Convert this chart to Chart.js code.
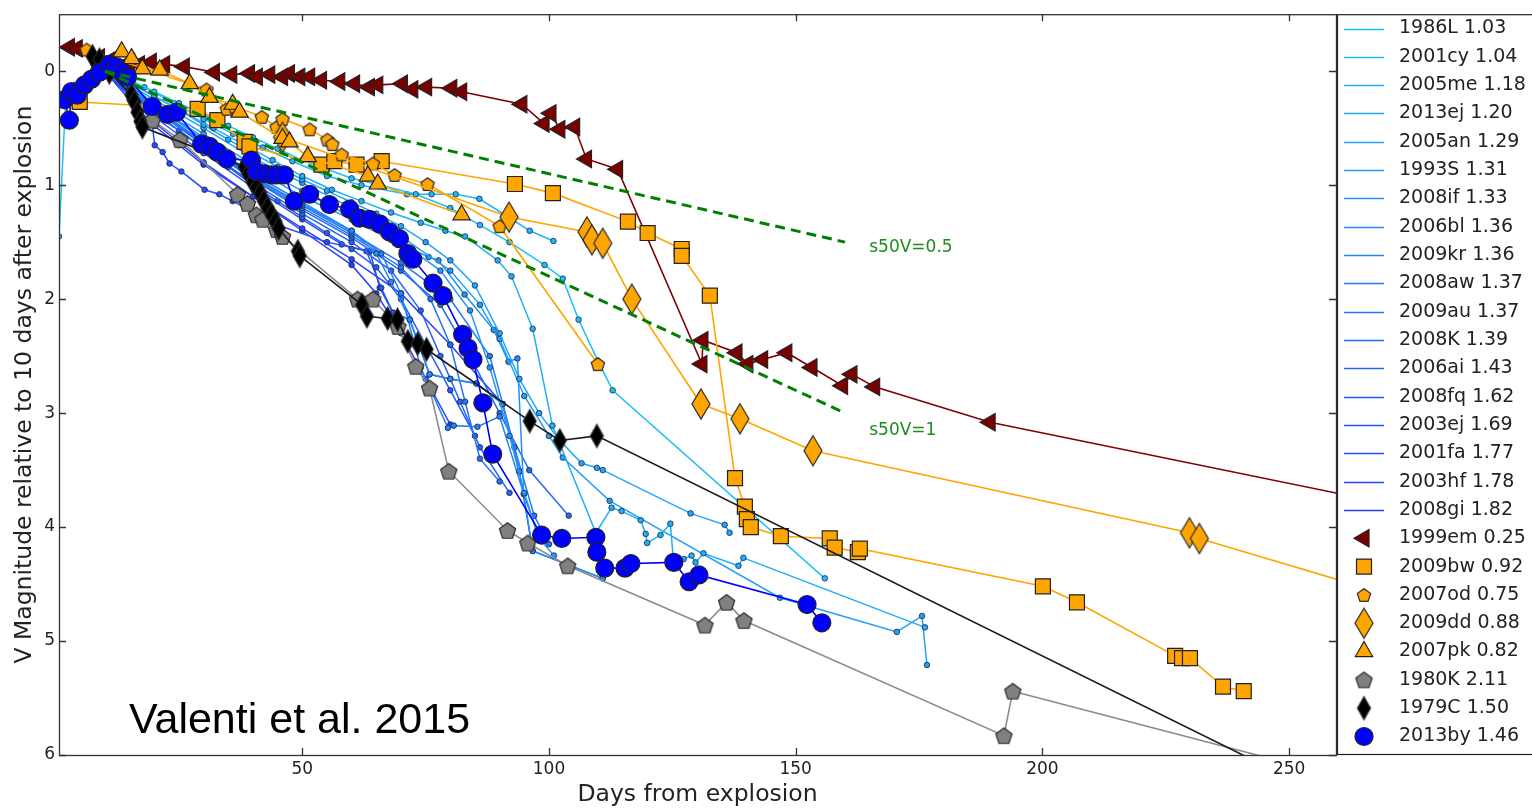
<!DOCTYPE html>
<html><head><meta charset="utf-8">
<script src="https://cdn.jsdelivr.net/npm/chart.js@4.4.0/dist/chart.umd.min.js"></script>
<style>html,body{margin:0;padding:0;background:#fff;overflow:hidden}#wrap{width:1532px;height:809px}</style>
</head><body><div id="wrap"><canvas id="c" width="1532" height="809"></canvas></div>
<script>
// ---------- axis ticks ----------
const xTicks = [50, 100, 150, 200, 250];
const yTicks = [0, 1, 2, 3, 4, 5, 6];

// ---------- line-only supernovae (name, s50V) ----------
const lineNames = ['1986L','2001cy','2005me','2013ej','2005an','1993S','2008if','2006bl','2009kr','2008aw','2009au','2008K','2006ai','2008fq','2003ej','2001fa','2003hf','2008gi'];
const lineS50 = ['1.03','1.04','1.18','1.20','1.29','1.31','1.33','1.36','1.36','1.37','1.37','1.39','1.43','1.62','1.69','1.77','1.78','1.82'];

const d1986L = [0.7,2,4,7,10,15,20,25,30,35,40,45,50,55,60,66,73,80,86,92,99.1,102.8,106,109.9,112.9,155.9];
const m1986L = [1.45,0.3,0.12,0.03,0,0.08,0.18,0.28,0.38,0.48,0.58,0.68,0.78,0.86,0.94,1.0,1.08,1.2,1.35,1.5,1.7,1.82,2.18,2.54,2.8,4.45];
const d2001cy = [3,6,10,14,18,24,30,36,42,48,55,62,71.2,76.2,81.1,85.9,96.1,100.9];
const m2001cy = [0.22,0.08,0,0.06,0.14,0.28,0.42,0.55,0.67,0.79,0.92,1.0,1.08,1.08,1.08,1.12,1.4,1.49];
const d2005me = [3,6,10,15,20,26,32,38,44,50,56,62,68,74,79,83,89.6,92.4,96.7,100.7,109.5,112.7,114.7,118.6,119.6,119.9,122.6,124.6,125.2,127.3,128.9,129.7,131.3,138.4,139.4,176.2];
const m2005me = [0.25,0.1,0,0.1,0.22,0.36,0.5,0.64,0.78,0.92,1.04,1.14,1.24,1.33,1.4,1.45,1.66,1.8,2.26,3.11,4.05,3.83,3.86,3.94,4.06,4.14,4.07,3.97,4.28,4.28,4.25,4.31,4.23,4.34,4.27,4.88];
const d2013ej = [3,6,10,15,20,25,30,35,40,45,50,55,60,65,70,75,80,85,90,94,98,102.2,106.6,109.7,110.9,128.7,135.6,136.6];
const m2013ej = [0.2,0.08,0,0.1,0.22,0.34,0.47,0.6,0.72,0.84,0.95,1.05,1.15,1.25,1.36,1.5,1.66,1.88,2.3,2.7,3.0,3.24,3.44,3.48,3.5,3.88,3.98,4.05];
const d2005an = [3,6,10,15,20,30,40,50,60,70,80,86,90,95,100,102.8,112.3,146.8,170.5,175.6,176.6];
const m2005an = [0.25,0.1,0,0.12,0.25,0.5,0.76,0.98,1.2,1.45,1.75,2.05,2.35,2.85,3.2,3.39,3.77,4.62,4.92,4.78,5.21];
const d1993S = [4,10,15,20,30,40,50,60,70,78,84,88,92,95,98,101];
const m1993S = [0.15,0,0.13,0.28,0.55,0.82,1.05,1.28,1.5,1.75,2.1,2.6,3.2,3.7,4.1,4.25];
const d2008if = [4,10,15,20,30,40,50,60,68,75.6,77.6,82.9,88.8,91.8,93.6,94.9,96.7,110.9];
const m2008if = [0.15,0,0.14,0.3,0.58,0.85,1.1,1.3,1.48,1.63,1.66,1.96,2.27,2.55,2.52,3.71,4.21,4.45];
const d2006bl = [5,10,15,20,30,40,50,60,65,68,71.8,75.8,80,85.3,90.6,94];
const m2006bl = [0.12,0,0.15,0.3,0.6,0.9,1.15,1.4,1.6,1.85,2.18,2.66,2.7,2.74,2.92,3.51];
const d2009kr = [5,10,15,20,30,40,50,60,66,70,74,79.5,80.7,85.5,90,94.9,98];
const m2009kr = [0.12,0,0.15,0.32,0.62,0.92,1.17,1.4,1.6,1.95,2.6,3.13,3.11,3.12,3.03,3.71,4.1];
const d2008aw = [5,10,15,20,30,40,50,60,70,80,88,93,97,100];
const m2008aw = [0.12,0,0.16,0.33,0.63,0.93,1.18,1.42,1.68,2.0,2.5,3.3,3.9,4.15];
const d2009au = [5,10,15,20,30,40,50,60,70,76,80,83,86,90];
const m2009au = [0.12,0,0.16,0.33,0.64,0.94,1.2,1.44,1.72,2.0,2.4,2.9,3.4,3.6];
const d2008K = [5,10,15,20,30,40,50,60,70,78,84,90,96,104];
const m2008K = [0.12,0,0.17,0.34,0.65,0.95,1.22,1.46,1.75,2.05,2.5,3.0,3.5,3.9];
const d2006ai = [5,10,15,20,30,40,50,60,68,74,78,82,86,92];
const m2006ai = [0.12,0,0.18,0.36,0.68,0.98,1.25,1.5,1.75,2.1,2.5,2.9,3.3,3.7];
const d2008fq = [5,10,15,20,25,30,35,40,45,50,55,60,65,70,75,80,85];
const m2008fq = [0.15,0,0.18,0.38,0.52,0.68,0.84,1.0,1.14,1.28,1.42,1.56,1.72,2.0,2.4,2.8,3.2];
const d2003ej = [5,10,15,20,30,40,50,58,63,66,68.4,71.8,75.8,80,85.3,90.6];
const m2003ej = [0.15,0,0.2,0.4,0.72,1.02,1.3,1.52,1.58,1.9,2.12,2.18,2.66,2.7,2.74,2.92];
const d2001fa = [5,10,15,19.5,20.1,21.7,23.1,25.5,30.2,33.2,35.9,45,55,63.7,65.7,68.4];
const m2001fa = [0.2,0,0.2,0.43,0.65,0.71,0.81,0.88,1.04,1.08,1.14,1.35,1.5,1.58,1.9,2.12];
const d2003hf = [5,10,15,20,30,40,50,60,70,80,90.6,94,96.7,110.9];
const m2003hf = [0.2,0,0.22,0.45,0.8,1.1,1.38,1.65,1.95,2.4,2.92,3.51,4.21,4.45];
const d2008gi = [5,10,15,20,25,30,40,50,60,65,70,75,80];
const m2008gi = [0.2,0,0.25,0.48,0.65,0.82,1.1,1.4,1.7,1.95,2.3,2.7,3.1];

const lineDays = [d1986L,d2001cy,d2005me,d2013ej,d2005an,d1993S,d2008if,d2006bl,d2009kr,d2008aw,d2009au,d2008K,d2006ai,d2008fq,d2003ej,d2001fa,d2003hf,d2008gi];
const lineMags = [m1986L,m2001cy,m2005me,m2013ej,m2005an,m1993S,m2008if,m2006bl,m2009kr,m2008aw,m2009au,m2008K,m2006ai,m2008fq,m2003ej,m2001fa,m2003hf,m2008gi];

// ---------- marker supernovae ----------
const d1999em = [2.8,4.4,8.9,11.3,15.0,17.0,19.4,22.1,26.1,32.2,35.7,39.3,40.9,43.4,46.0,47.4,49.5,51.5,53.9,57.6,60.6,63.6,65.3,70.3,72.4,75.2,80.3,82.3,94.5,99.0,100.4,102.2,105.2,107.6,113.9,131.0,131.2,138.1,140.3,143.3,148.2,153.3,159.5,161.4,166.0,189.4,300];
const m1999em = [-0.21,-0.20,-0.12,-0.10,-0.08,-0.06,-0.08,-0.06,-0.04,0.01,0.03,0.02,0.05,0.03,0.05,0.02,0.05,0.05,0.08,0.09,0.11,0.14,0.12,0.11,0.16,0.14,0.15,0.18,0.29,0.46,0.37,0.51,0.49,0.77,0.86,2.57,2.36,2.47,2.57,2.53,2.47,2.60,2.76,2.66,2.77,3.08,4.06];
const d2009bw = [4.9,28.8,32.8,38.3,39.3,53.9,56.5,61.0,66.1,93.1,100.8,116.0,120.0,126.9,126.9,132.6,137.7,139.7,140.1,140.9,147.0,156.9,157.9,162.6,163.0,200.1,207.0,226.9,228.3,229.9,236.6,240.8];
const m2009bw = [0.27,0.33,0.43,0.62,0.66,0.82,0.79,0.82,0.79,0.99,1.07,1.32,1.42,1.56,1.62,1.97,3.57,3.82,3.93,4.0,4.08,4.10,4.18,4.22,4.19,4.52,4.66,5.13,5.15,5.15,5.40,5.44];
const d2007od = [6.3,30.6,34.7,36.3,41.8,44.8,46.0,51.5,55.1,56.1,58.0,64.3,68.7,75.4,90.0,109.9];
const m2007od = [-0.19,0.16,0.33,0.31,0.40,0.49,0.42,0.51,0.60,0.64,0.73,0.81,0.91,0.99,1.36,2.57];
const d2009dd = [46.0,91.9,107.7,108.7,110.9,116.8,130.8,138.7,153.5,229.8,231.8,300];
const m2009dd = [0.58,1.28,1.41,1.48,1.51,2.00,2.92,3.05,3.33,4.05,4.10,4.98];
const d2007pk = [13.4,15.4,17.6,21.1,27.2,31.2,35.9,37.3,46.0,47.4,51.1,63.3,65.3,82.3];
const m2007pk = [-0.17,-0.11,-0.02,-0.01,0.11,0.23,0.29,0.36,0.59,0.62,0.75,0.92,0.99,1.26];
const d1980K = [19.6,25.2,36.9,38.9,40.7,42.0,44.8,46.0,61.2,64.3,69.4,73.0,75.8,79.7,91.6,95.7,103.8,131.6,136.0,139.5,192.2,194.0,300];
const m1980K = [0.43,0.60,1.08,1.16,1.26,1.30,1.39,1.45,2.00,2.00,2.24,2.59,2.78,3.51,4.03,4.14,4.34,4.86,4.66,4.82,5.83,5.44,6.64];
const d1979C = [7.5,8.9,9.9,10.9,15.4,16.0,16.6,17.2,17.6,38.3,39.1,39.9,40.7,41.5,42.2,43.0,43.8,44.6,45.2,49.1,49.5,62.1,63.1,67.3,69.3,71.4,73.4,75.2,96.1,102.2,109.7,300];
const m1979C = [-0.13,-0.1,-0.04,0.01,0.21,0.27,0.36,0.44,0.49,0.84,0.9,0.97,1.02,1.07,1.14,1.2,1.26,1.32,1.38,1.58,1.62,2.05,2.15,2.17,2.18,2.37,2.39,2.44,3.07,3.24,3.20,7.27];
const d2013by = [1.8,2.8,3.2,4.4,5.9,7.3,8.9,10.9,12.3,13.6,14.6,19.6,22.7,24.5,29.6,31.2,32.8,34.7,39.7,40.7,42.4,43.8,44.8,46.4,48.4,51.5,55.5,59.6,61.6,63.6,65.7,67.7,69.7,71.4,72.4,76.5,78.5,82.5,83.6,84.6,86.6,88.6,98.5,102.6,109.5,109.7,111.3,115.4,116.6,125.3,128.4,130.4,152.3,155.3];
const m2013by = [0.25,0.43,0.18,0.21,0.12,0.07,0.01,-0.06,-0.04,0.01,0.05,0.31,0.38,0.36,0.64,0.66,0.71,0.77,0.78,0.88,0.90,0.91,0.91,0.91,1.14,1.08,1.17,1.21,1.29,1.30,1.34,1.41,1.47,1.60,1.65,1.86,1.97,2.31,2.43,2.53,2.91,3.36,4.07,4.10,4.09,4.22,4.36,4.36,4.32,4.31,4.48,4.42,4.68,4.84];

// ---------- s50V reference slopes ----------
const refDays = [10, 160];
const refHalf = [0, 1.5];
const refOne = [0, 3.0];
const refLabels = ['s50V=0.5', 's50V=1'];
const refLabelPos = [[164.9, 1.545], [164.9, 3.155]];

// ---------- helpers ----------
const zip = (d, m) => d.map((v, i) => ({x: v, y: m[i]}));
function lineColor(i) {
  const t = i / 17;
  const h = 196 + t * 38, s = 95, l = 55 + t * 2;
  return `hsl(${h},${s}%,${l}%)`;
}
function polyCanvas(pts, w, h, fill, stroke, lw) {
  const c = document.createElement('canvas');
  c.width = Math.ceil(w + 4); c.height = Math.ceil(h + 4);
  const g = c.getContext('2d');
  g.translate(c.width / 2, c.height / 2);
  g.beginPath();
  pts.forEach((p, i) => i ? g.lineTo(p[0], p[1]) : g.moveTo(p[0], p[1]));
  g.closePath();
  g.fillStyle = fill; g.fill();
  g.lineWidth = lw; g.strokeStyle = stroke; g.stroke();
  return c;
}
function pentagon(R, fill) {
  const pts = [];
  for (let k = 0; k < 5; k++) { const a = -Math.PI / 2 + k * 2 * Math.PI / 5; pts.push([R * Math.cos(a), R * Math.sin(a) + R * 0.1]); }
  return polyCanvas(pts, 2 * R, 2 * R, fill, '#2a2a2a', 1.2);
}
function thinDiamond(w, h, fill) {
  return polyCanvas([[0, -h / 2], [w / 2, 0], [0, h / 2], [-w / 2, 0]], w, h, fill, '#2a2a2a', 1.2);
}
const ORANGE = '#FFA500';
const pentOd = pentagon(7, ORANGE);
const pentK = pentagon(8.5, '#808080');
const diaDd = thinDiamond(18, 30, ORANGE);
const diaC = thinDiamond(13, 23, '#000000');

const datasets = [];
datasets.push({data: zip(refDays, refHalf), borderColor: '#008000', borderWidth: 3, borderDash: [10, 6], pointRadius: 0, order: 0, clip: 0});
datasets.push({data: zip(refDays, refOne), borderColor: '#008000', borderWidth: 3, borderDash: [10, 6], pointRadius: 0, order: 0, clip: 0});

const markerSeries = [
  {name: '1999em', s: '0.25', d: d1999em, m: m1999em, line: '#800000', fill: '#7a0000', style: 'triangle', rot: 270, r: 10, img: null},
  {name: '2009bw', s: '0.92', d: d2009bw, m: m2009bw, line: ORANGE, fill: ORANGE, style: 'rect', rot: 0, r: 10.6, img: null},
  {name: '2007od', s: '0.75', d: d2007od, m: m2007od, line: ORANGE, fill: ORANGE, style: pentOd, rot: 0, r: 7, img: pentOd},
  {name: '2009dd', s: '0.88', d: d2009dd, m: m2009dd, line: ORANGE, fill: ORANGE, style: diaDd, rot: 0, r: 12, img: diaDd},
  {name: '2007pk', s: '0.82', d: d2007pk, m: m2007pk, line: ORANGE, fill: ORANGE, style: 'triangle', rot: 0, r: 10, img: null},
  {name: '1980K', s: '2.11', d: d1980K, m: m1980K, line: '#8c8c8c', fill: '#808080', style: pentK, rot: 0, r: 8, img: pentK},
  {name: '1979C', s: '1.50', d: d1979C, m: m1979C, line: '#1a1a1a', fill: '#000000', style: diaC, rot: 0, r: 10, img: diaC},
  {name: '2013by', s: '1.46', d: d2013by, m: m2013by, line: '#0000ff', fill: '#0000ff', style: 'circle', rot: 0, r: 9, img: null}
];
markerSeries.forEach((s, i) => {
  datasets.push({data: zip(s.d, s.m), borderColor: s.line, borderWidth: 1.6, pointStyle: s.style, pointRotation: s.rot,
    pointRadius: s.r, pointBackgroundColor: s.fill, pointBorderColor: '#222', pointBorderWidth: 1.2, order: 8 - i, clip: 0, tension: 0});
});
lineNames.forEach((n, i) => {
  datasets.push({data: zip(lineDays[i], lineMags[i]), borderColor: lineColor(i), borderWidth: 1.5, pointRadius: 2.8,
    pointBackgroundColor: lineColor(i), pointBorderColor: '#1b2540', pointBorderWidth: 0.8, order: 10 + i, clip: 0, tension: 0});
});

const FONT = 'DejaVu Sans';
const decor = {
  id: 'decor',
  afterDraw(chart) {
    const {ctx, chartArea: a, scales: {x, y}} = chart;
    ctx.save();
    ctx.strokeStyle = '#333'; ctx.lineWidth = 1.3;
    ctx.strokeRect(a.left + 0.5, a.top + 0.5, a.right - a.left, a.bottom - a.top);
    ctx.beginPath();
    xTicks.forEach(v => { const px = Math.round(x.getPixelForValue(v)) + 0.5; ctx.moveTo(px, a.bottom); ctx.lineTo(px, a.bottom - 7); ctx.moveTo(px, a.top); ctx.lineTo(px, a.top + 7); });
    yTicks.forEach(v => { const py = Math.round(y.getPixelForValue(v)) + 0.5; ctx.moveTo(a.left, py); ctx.lineTo(a.left + 7, py); ctx.moveTo(a.right, py); ctx.lineTo(a.right - 7, py); });
    ctx.stroke();
    ctx.fillStyle = '#1e8a1e'; ctx.font = `17px "${FONT}"`; ctx.textBaseline = 'middle'; ctx.textAlign = 'left';
    refLabels.forEach((t, i) => ctx.fillText(t, x.getPixelForValue(refLabelPos[i][0]), y.getPixelForValue(refLabelPos[i][1])));
    ctx.fillStyle = '#000'; ctx.font = '43px "Liberation Sans"'; ctx.textBaseline = 'alphabetic';
    ctx.fillText('Valenti et al. 2015', 129, 733);
    const lx = a.right + 1;
    ctx.strokeStyle = '#222'; ctx.lineWidth = 1.2;
    ctx.strokeRect(lx + 0.5, a.top + 0.5, 400, a.bottom - a.top - 1);
    ctx.font = `19px "${FONT}"`; ctx.fillStyle = '#222'; ctx.textBaseline = 'middle';
    const rowY = i => 28.5 + i * 28.32;
    lineNames.forEach((n, i) => {
      const yy = Math.round(rowY(i)) + 0.5;
      ctx.strokeStyle = lineColor(i); ctx.lineWidth = 1.5;
      ctx.beginPath(); ctx.moveTo(1344, yy); ctx.lineTo(1384, yy); ctx.stroke();
      ctx.fillStyle = '#222'; ctx.fillText(n + ' ' + lineS50[i], 1399, rowY(i));
    });
    markerSeries.forEach((s, j) => {
      const i = 18 + j, cy = rowY(i), cx = 1364;
      ctx.fillStyle = s.fill; ctx.strokeStyle = '#222'; ctx.lineWidth = 1.2;
      if (s.img) { ctx.drawImage(s.img, cx - s.img.width / 2, cy - s.img.height / 2); }
      else {
        ctx.beginPath();
        if (s.style === 'circle') ctx.arc(cx, cy, s.r, 0, Math.PI * 2);
        else if (s.style === 'rect') { const h = s.r * Math.SQRT1_2; ctx.rect(cx - h, cy - h, 2 * h, 2 * h); }
        else {
          let rad = s.rot * Math.PI / 180;
          for (let k = 0; k < 3; k++) { const px = cx + Math.sin(rad) * s.r, py = cy - Math.cos(rad) * s.r; k ? ctx.lineTo(px, py) : ctx.moveTo(px, py); rad += 2 * Math.PI / 3; }
          ctx.closePath();
        }
        ctx.fill(); ctx.stroke();
      }
      ctx.fillStyle = '#222'; ctx.fillText(s.name + ' ' + s.s, 1399, cy);
    });
    ctx.restore();
  }
};

new Chart(document.getElementById('c'), {
  type: 'line',
  data: {datasets},
  options: {
    responsive: false, animation: false, devicePixelRatio: 1, events: [],
    layout: {padding: {top: 12, right: 196, left: 0, bottom: 0}},
    plugins: {legend: {display: false}, tooltip: {enabled: false}},
    elements: {line: {fill: false}},
    scales: {
      x: {type: 'linear', min: 0.7, max: 259.5,
        afterBuildTicks: s => { s.ticks = xTicks.map(v => ({value: v})); },
        afterFit: s => { s.height = 54; },
        grid: {display: false, drawTicks: false}, border: {display: false},
        ticks: {font: {family: FONT, size: 17}, color: '#222', padding: 4, maxRotation: 0},
        title: {display: true, text: 'Days from explosion', font: {family: FONT, size: 23.5}, color: '#222', padding: {top: 0, bottom: 0}}},
      y: {type: 'linear', reverse: true, min: -0.5, max: 6,
        afterBuildTicks: s => { s.ticks = yTicks.map(v => ({value: v})); },
        afterFit: s => { s.width = 59; },
        grid: {display: false, drawTicks: false}, border: {display: false},
        ticks: {font: {family: FONT, size: 17}, color: '#222', padding: 4},
        title: {display: true, text: 'V Magnitude relative to 10 days after explosion', font: {family: FONT, size: 23.5}, color: '#222', padding: {top: 11, bottom: 0}}}
    }
  },
  plugins: [decor]
});
</script></body></html>
